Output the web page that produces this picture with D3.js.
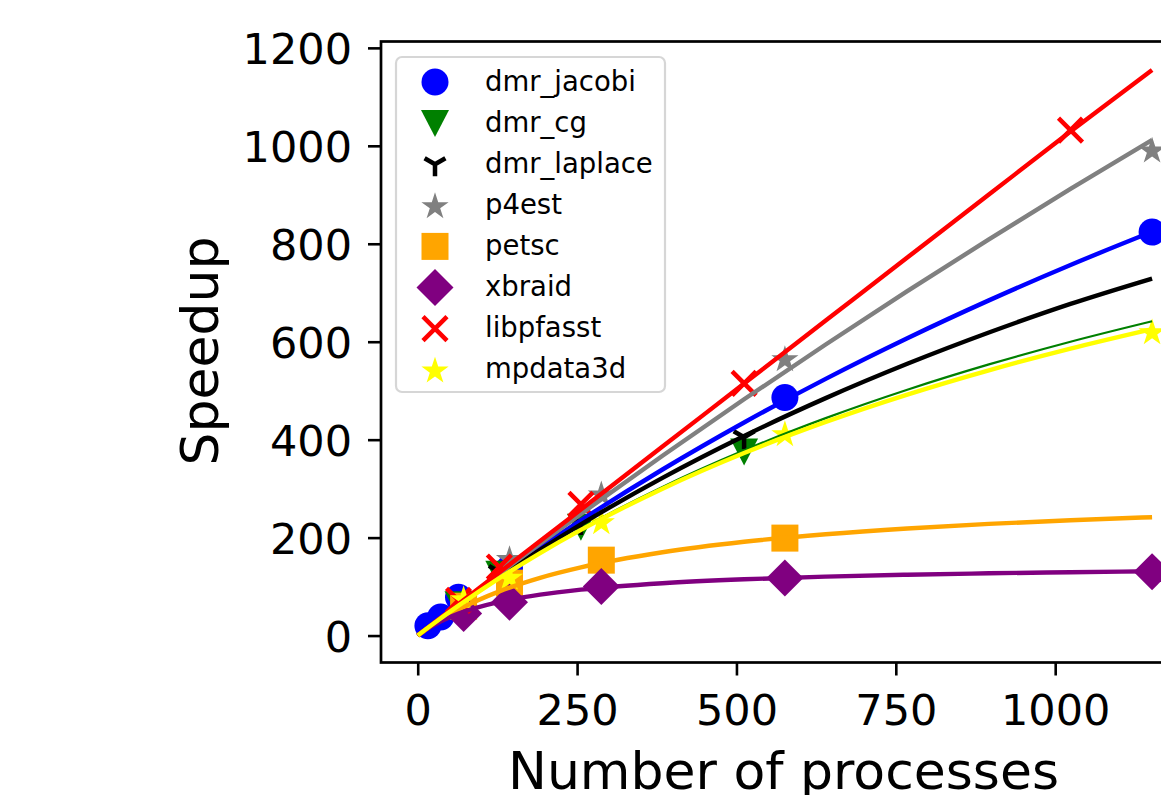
<!DOCTYPE html>
<html>
<head>
<meta charset="utf-8">
<script src="https://cdn.jsdelivr.net/npm/d3@7"></script>
<style>
  html, body { margin: 0; padding: 0; background: #fff; overflow: hidden; }
  svg { display: block; font-family: "DejaVu Sans", sans-serif; }
</style>
</head>
<body>
<svg id="chart" width="1161" height="795"></svg>
<script>
// ---------- data ----------
const seriesNames = ["dmr_jacobi", "dmr_cg", "dmr_laplace", "p4est", "petsc", "xbraid", "libpfasst", "mpdata3d"];
const seriesColors = ["#0000ff", "#008000", "#000000", "#808080", "#ffa500", "#800080", "#ff0000", "#ffff00"];
const seriesMarkers = ["circle", "triangleDown", "triDown", "star", "square", "diamond", "x", "star"];

// measured points
const jacobiX = [16, 36, 64, 144, 576, 1152];
const jacobiY = [20, 38, 78, 138, 486, 824];
const cgX = [64, 128, 256, 512];
const cgY = [64, 126, 222, 376];
const laplaceX = [128, 256, 512];
const laplaceY = [130, 230, 405];
const p4estX = [144, 288, 576, 1152];
const p4estY = [158, 290, 566, 992];
const petscX = [72, 144, 288, 576];
const petscY = [60, 107, 154, 199];
const xbraidX = [72, 144, 288, 576, 1152];
const xbraidY = [45, 68, 100, 117.5, 130.5];
const libpfasstX = [64, 128, 256, 512, 1024];
const libpfasstY = [72, 140, 268, 515, 1032];
const mpdataX = [72, 144, 288, 576, 1152];
const mpdataY = [76, 120, 233, 413, 621];

// fitted curves at these process counts
const fitX = [0, 16, 32, 64, 128, 192, 256, 384, 512, 640, 768, 896, 1024, 1152];
const jacobiFit    = [0, 15.9, 31.7, 62.6, 122.6, 180.1, 235.2, 339.1, 435.1, 524.2, 607.1, 684.4, 756.7, 824.4];
const cgFit        = [0, 15.8, 31.3, 61.3, 117.6, 169.5, 217.6, 303.6, 378.3, 444.0, 502.0, 553.7, 600.0, 641.8];
const laplaceFit   = [0, 15.9, 31.5, 62.0, 120.3, 175.2, 227.0, 322.1, 407.6, 484.8, 554.9, 618.8, 677.2, 729.0];
const p4estFit     = [0, 16.0, 31.9, 63.5, 126.1, 187.7, 248.4, 367.1, 482.4, 594.4, 703.2, 809.0, 911.9, 1012.1];
const petscFit     = [0, 15.2, 29.0, 52.9, 90.2, 118.0, 139.3, 170.2, 191.5, 206.9, 218.7, 228.0, 235.5, 241.7];
const xbraidFit    = [0, 14.4, 26.3, 44.7, 68.7, 83.6, 93.8, 106.9, 114.9, 120.3, 124.2, 127.1, 129.4, 131.3];
const libpfasstFit = [0, 16.1, 32.2, 64.3, 128.6, 193.0, 257.3, 385.9, 514.6, 643.2, 771.8, 900.5, 1029.1, 1155.0];
const mpdataFit    = [0, 15.8, 31.3, 61.1, 117.1, 168.4, 215.7, 299.9, 372.7, 436.2, 492.1, 541.7, 586.0, 625.8];

const xTicks = [0, 250, 500, 750, 1000];
const yTicks = [0, 200, 400, 600, 800, 1000, 1200];
const xLabel = "Number of processes";
const yLabel = "Speedup";

const pointsX = [jacobiX, cgX, laplaceX, p4estX, petscX, xbraidX, libpfasstX, mpdataX];
const pointsY = [jacobiY, cgY, laplaceY, p4estY, petscY, xbraidY, libpfasstY, mpdataY];
const fits = [jacobiFit, cgFit, laplaceFit, p4estFit, petscFit, xbraidFit, libpfasstFit, mpdataFit];
const lineWidths = [4.4, 2.2, 4.4, 4.4, 4.4, 4.4, 4.4, 4.4];

// ---------- layout ----------
const svg = d3.select("#chart");
svg.append("rect").attr("width", 1161).attr("height", 795).attr("fill", "#fff");

const plotLeft = 381, plotRight = 1188.8, plotTop = 41.5, plotBottom = 662.5;
const x = d3.scaleLinear().domain([-57.6, 1209.6]).range([plotLeft, plotRight]);
const y = d3.scaleLinear().domain([-55, 1213]).range([plotBottom, plotTop]);

const defs = svg.append("defs");
defs.append("clipPath").attr("id", "plotclip")
  .append("rect").attr("x", plotLeft).attr("y", plotTop)
  .attr("width", plotRight - plotLeft).attr("height", plotBottom - plotTop);

// ---------- marker shapes ----------
function starPath(R) {
  const r = R * 0.381966;
  const pts = [];
  for (let i = 0; i < 10; i++) {
    const a = -Math.PI / 2 + i * Math.PI / 5;
    const rr = i % 2 === 0 ? R : r;
    pts.push([rr * Math.cos(a), rr * Math.sin(a)]);
  }
  return "M" + pts.map(p => p[0].toFixed(2) + "," + p[1].toFixed(2)).join("L") + "Z";
}
function drawMarker(g, type, color) {
  switch (type) {
    case "circle":
      g.append("circle").attr("r", 13.5).attr("fill", color); break;
    case "triangleDown":
      g.append("path").attr("d", "M0,14L-14,-13L14,-13Z").attr("fill", color); break;
    case "triDown": {
      const r = 12;
      g.append("path")
        .attr("d", `M0,0L0,${r}M0,0L${0.866 * r},${-0.5 * r}M0,0L${-0.866 * r},${-0.5 * r}`)
        .attr("stroke", color).attr("stroke-width", 4.5).attr("fill", "none"); break;
    }
    case "star":
      g.append("path").attr("d", starPath(14.3)).attr("transform", "translate(0,1.3)").attr("fill", color); break;
    case "square":
      g.append("rect").attr("x", -13.5).attr("y", -13.5).attr("width", 27).attr("height", 27).attr("fill", color); break;
    case "diamond":
      g.append("path").attr("d", "M0,-18.5L18.5,0L0,18.5L-18.5,0Z").attr("fill", color); break;
    case "x":
      g.append("path").attr("d", "M-12,-12L12,12M-12,12L12,-12")
        .attr("stroke", color).attr("stroke-width", 4.5).attr("fill", "none"); break;
  }
}

// ---------- marks ----------
const plot = svg.append("g").attr("clip-path", "url(#plotclip)");
const markerLayer = plot.append("g");
const lineLayer = plot.append("g");

seriesNames.forEach((name, i) => {
  const px = pointsX[i], py = pointsY[i];
  px.forEach((v, j) => {
    const g = markerLayer.append("g").attr("transform", `translate(${x(v)},${y(py[j])})`);
    drawMarker(g, seriesMarkers[i], seriesColors[i]);
  });
});

const lineGen = d3.line().x(d => x(d[0])).y(d => y(d[1])).curve(d3.curveMonotoneX);
seriesNames.forEach((name, i) => {
  const data = fitX.map((v, j) => [v, fits[i][j]]);
  lineLayer.append("path").datum(data)
    .attr("d", lineGen)
    .attr("fill", "none")
    .attr("stroke", seriesColors[i])
    .attr("stroke-width", lineWidths[i])
    .attr("stroke-linecap", "butt")
    .attr("stroke-linejoin", "round");
});

// ---------- axes ----------
const xAxis = svg.append("g").attr("transform", `translate(0,${plotBottom})`)
  .call(d3.axisBottom(x).tickValues(xTicks).tickSize(13).tickPadding(17).tickFormat(d3.format("d")));
const yAxis = svg.append("g").attr("transform", `translate(${plotLeft},0)`)
  .call(d3.axisLeft(y).tickValues(yTicks).tickSize(13).tickPadding(16).tickFormat(d3.format("d")));

[xAxis, yAxis].forEach(a => {
  a.select(".domain").remove();
  a.selectAll(".tick line").attr("stroke", "#000").attr("stroke-width", 2.6);
  a.selectAll(".tick text").attr("fill", "#000")
    .style("font-family", "'DejaVu Sans', sans-serif").style("font-size", "43px");
});
xAxis.selectAll(".tick text").attr("dy", "0.76em");
yAxis.selectAll(".tick text").attr("dy", "0.36em");

// spines
svg.append("rect")
  .attr("x", plotLeft).attr("y", plotTop)
  .attr("width", plotRight - plotLeft).attr("height", plotBottom - plotTop)
  .attr("fill", "none").attr("stroke", "#000").attr("stroke-width", 2.7);

// axis labels
svg.append("text").attr("x", 783.5).attr("y", 789).attr("text-anchor", "middle")
  .style("font-size", "52px").attr("fill", "#000").text(xLabel);
svg.append("text").attr("transform", "translate(218,351) rotate(-90)").attr("text-anchor", "middle")
  .style("font-size", "52px").attr("fill", "#000").text(yLabel);

// ---------- legend ----------
const legend = svg.append("g");
legend.append("rect")
  .attr("x", 396).attr("y", 57).attr("width", 269).attr("height", 335)
  .attr("rx", 6).attr("ry", 6)
  .attr("fill", "#fff").attr("fill-opacity", 0.8)
  .attr("stroke", "#d6d6d6").attr("stroke-width", 2.2);

seriesNames.forEach((name, i) => {
  const cy = 82 + i * 41.1;
  const g = legend.append("g").attr("transform", `translate(435,${cy})`);
  drawMarker(g, seriesMarkers[i], seriesColors[i]);
  legend.append("text").attr("x", 485).attr("y", cy + 8.5)
    .style("font-size", "27.5px").attr("fill", "#000").text(name);
});
</script>
</body>
</html>
